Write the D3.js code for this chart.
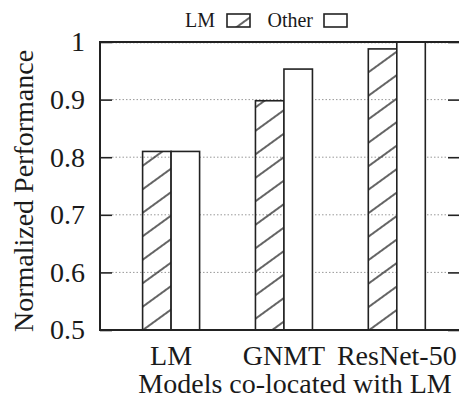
<!DOCTYPE html>
<html>
<head>
<meta charset="utf-8">
<script src="https://cdn.jsdelivr.net/npm/d3@7"></script>
</head>
<body style="margin:0">
<svg width="459" height="400">
  <text id="xtitle" x="295" y="393" text-anchor="middle" font-size="28" font-family="Liberation Serif" fill="#1a1a1a">Models co-located with LM</text>
  <text id="ytitle" transform="translate(33,191) rotate(-90)" text-anchor="middle" font-size="28" font-family="Liberation Serif" fill="#1a1a1a">Normalized Performance</text>
</svg>
<script>
// chart data
const categories = ["LM", "GNMT", "ResNet-50"];
const lmValues = [0.81, 0.898, 0.988];
const otherValues = [0.81, 0.953, 1.0];
const yTicks = [0.5, 0.6, 0.7, 0.8, 0.9, 1];

const FONT = "Liberation Serif";
const svg = d3.select("svg");
const margin = { left: 100, right: -1, top: 42, bottom: 70 };
const width = 459, height = 400;

const x = d3.scaleLinear().domain([-0.63, 2.56]).range([margin.left, width - margin.right]);
const y = d3.scaleLinear().domain([0.5, 1]).range([height - margin.bottom, margin.top]);
const barW = 28.5;

// hatch pattern
const defs = svg.append("defs");
defs.append("pattern")
    .attr("id", "hatch")
    .attr("patternUnits", "userSpaceOnUse")
    .attr("width", 10)
    .attr("height", 19)
    .attr("patternTransform", "rotate(-36)")
  .append("line")
    .attr("x1", -2).attr("x2", 12)
    .attr("y1", 9).attr("y2", 9)
    .attr("stroke", "#222")
    .attr("stroke-width", 1.4);

// grid
svg.append("g")
    .selectAll("line")
    .data(yTicks.filter(d => d > 0.5 && d < 1))
    .join("line")
    .attr("x1", margin.left + 12)
    .attr("x2", width - margin.right - 12)
    .attr("y1", d => y(d))
    .attr("y2", d => y(d))
    .attr("stroke", "#999")
    .attr("stroke-width", 1)
    .attr("stroke-dasharray", "1.5,2");
svg.append("line")
    .attr("x1", margin.left + 12).attr("x2", width - margin.right - 12)
    .attr("y1", y(1) + 1).attr("y2", y(1) + 1)
    .attr("stroke", "#bbb").attr("stroke-dasharray", "1.5,2");

// bars
const groups = svg.append("g")
    .selectAll("g")
    .data(categories)
    .join("g");

groups.append("rect")
    .attr("x", (d, i) => x(i) - barW)
    .attr("y", (d, i) => y(lmValues[i]))
    .attr("width", barW)
    .attr("height", (d, i) => y(0.5) - y(lmValues[i]))
    .attr("fill", "url(#hatch)")
    .attr("stroke", "#222")
    .attr("stroke-width", 1.6);

groups.append("rect")
    .attr("x", (d, i) => x(i))
    .attr("y", (d, i) => y(otherValues[i]))
    .attr("width", barW)
    .attr("height", (d, i) => y(0.5) - y(otherValues[i]))
    .attr("fill", "#fff")
    .attr("stroke", "#222")
    .attr("stroke-width", 1.6);

// left axis
const yAxis = svg.append("g")
    .attr("transform", `translate(${margin.left},0)`)
    .call(d3.axisLeft(y).tickValues(yTicks).tickFormat(d3.format("")).tickSizeInner(-12).tickSizeOuter(0).tickPadding(15));
yAxis.attr("font-family", FONT).attr("font-size", 28);
yAxis.select(".domain").remove();
yAxis.selectAll("line").attr("stroke", "#222").attr("stroke-width", 1.6);
yAxis.selectAll("text")
    .attr("font-size", 28)
    .attr("font-family", FONT)
    .attr("fill", "#1a1a1a");

// right ticks
const yAxisR = svg.append("g")
    .attr("transform", `translate(${width - margin.right},0)`)
    .call(d3.axisRight(y).tickValues(yTicks).tickFormat("").tickSizeInner(-12).tickSizeOuter(0));
yAxisR.select(".domain").remove();
yAxisR.selectAll("line").attr("stroke", "#222").attr("stroke-width", 1.6);

// frame
svg.append("rect")
    .attr("x", margin.left)
    .attr("y", margin.top)
    .attr("width", width - margin.right - margin.left)
    .attr("height", y(0.5) - margin.top)
    .attr("fill", "none")
    .attr("stroke", "#222")
    .attr("stroke-width", 2);

// category labels
svg.append("g")
    .selectAll("text")
    .data(categories)
    .join("text")
    .attr("x", (d, i) => x(i))
    .attr("y", 365)
    .attr("text-anchor", "middle")
    .attr("font-size", 28)
    .attr("font-family", FONT)
    .attr("fill", "#1a1a1a")
    .text(d => d);

// legend
const legend = svg.append("g");
legend.append("text").attr("x", 215).attr("y", 27).attr("text-anchor", "end")
    .attr("font-size", 20).attr("font-family", FONT).attr("fill", "#1a1a1a").text("LM");
legend.append("rect").attr("x", 227).attr("y", 14).attr("width", 23).attr("height", 13)
    .attr("fill", "url(#hatch)").attr("stroke", "#222").attr("stroke-width", 1.6);
legend.append("text").attr("x", 313).attr("y", 27).attr("text-anchor", "end")
    .attr("font-size", 20).attr("font-family", FONT).attr("fill", "#1a1a1a").text("Other");
legend.append("rect").attr("x", 324).attr("y", 14).attr("width", 23).attr("height", 13)
    .attr("fill", "#fff").attr("stroke", "#222").attr("stroke-width", 1.6);
</script>
</body>
</html>
